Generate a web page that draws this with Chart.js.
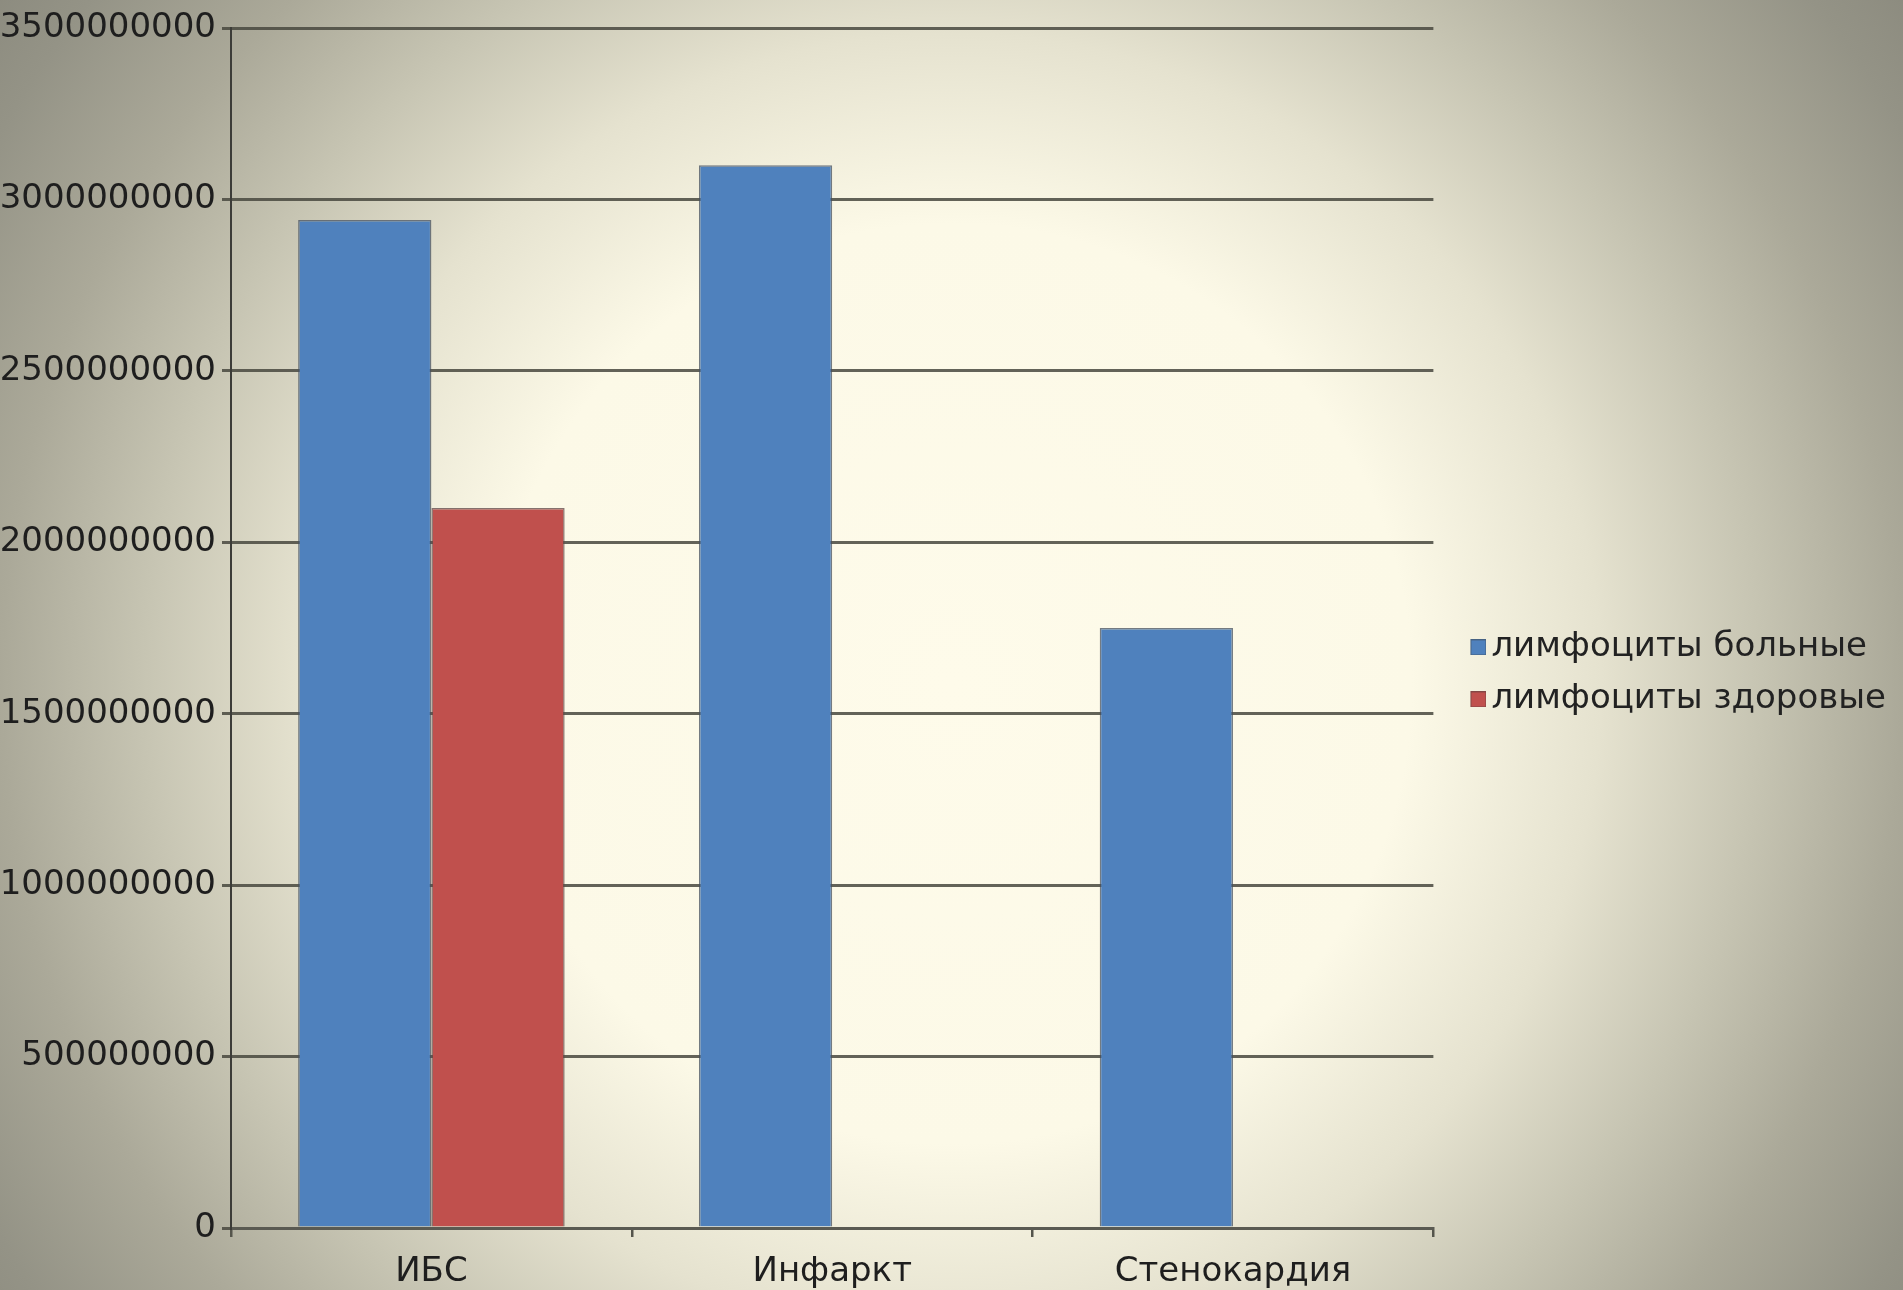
<!DOCTYPE html>
<html>
<head>
<meta charset="utf-8">
<script src="https://cdn.jsdelivr.net/npm/chart.js@4"></script>
<style>
  html, body { margin: 0; padding: 0; }
  body {
    width: 1903px; height: 1290px; overflow: hidden;
    background: radial-gradient(circle at 50% 53%, #fefbea 0px, #fcf9e7 460px, #e5e2cf 650px, #c6c4b2 810px, #aba999 950px, #949386 1100px, #807f74 1300px);
  }
  #wrap { position: absolute; left: 0; top: 0; width: 1903px; height: 1290px; }
</style>
</head>
<body>
<div id="wrap"><canvas id="barChart"></canvas></div>
<script>
var categories = ['ИБС', 'Инфаркт', 'Стенокардия'];
var sickValues = [2940000000, 3100000000, 1750000000];
var healthyValues = [2100000000, null, null];
var seriesNames = ['лимфоциты больные', 'лимфоциты здоровые'];
var seriesColors = ['#4f81bd', '#c0504d'];
var yTicks = [0, 500000000, 1000000000, 1500000000, 2000000000, 2500000000, 3000000000, 3500000000];

// legend marker: square sits at the right end of a wider transparent image,
// which leaves a gap to the plot and keeps the square close to its text
var markerSlot = 23;
function makeMarker(color) {
    var c = document.createElement('canvas');
    c.width = markerSlot + 24;
    c.height = 16;
    var g = c.getContext('2d');
    g.fillStyle = color;
    g.fillRect(c.width - 16, 0, 16, 16);
    g.strokeStyle = 'rgba(60,60,60,0.45)';
    g.lineWidth = 1;
    g.strokeRect(c.width - 15.5, 0.5, 15, 15);
    return c;
}
var markers = seriesColors.map(makeMarker);

var ctx = document.getElementById('barChart').getContext('2d');
Chart.defaults.font.family = '"DejaVu Sans", Verdana, sans-serif';
Chart.defaults.color = '#1e1e1e';

new Chart(ctx, {
    type: 'bar',
    data: {
        labels: categories,
        datasets: [
            {
                label: seriesNames[0],
                data: sickValues,
                backgroundColor: seriesColors[0],
                borderColor: 'rgba(70,80,95,0.75)',
                borderWidth: 1.5
            },
            {
                label: seriesNames[1],
                data: healthyValues,
                backgroundColor: seriesColors[1],
                borderColor: 'rgba(95,70,70,0.75)',
                borderWidth: 1.5
            }
        ]
    },
    options: {
        responsive: true,
        maintainAspectRatio: false,
        animation: false,
        layout: { padding: { top: 28, right: 7, left: 0, bottom: 0 } },
        datasets: {
            bar: { barPercentage: 1, categoryPercentage: 0.665 }
        },
        plugins: {
            tooltip: { enabled: false },
            legend: {
                position: 'right',
                align: 'center',
                title: { display: true, text: '', padding: { top: 12, bottom: 0 }, font: { size: 14 } },
                labels: {
                    usePointStyle: true,
                    pointStyleWidth: markerSlot,
                    boxHeight: 16,
                    padding: 18,
                    font: { size: 34 },
                    color: '#222',
                    generateLabels: function(chart) {
                        var items = Chart.defaults.plugins.legend.labels.generateLabels(chart);
                        items.forEach(function(item, i) { item.pointStyle = markers[i]; });
                        return items;
                    }
                }
            }
        },
        scales: {
            x: {
                afterFit: function(scale) { scale.height = 62; },
                grid: {
                    display: true,
                    drawOnChartArea: false,
                    drawTicks: true,
                    tickLength: 9,
                    color: '#55554c',
                    lineWidth: 2.5
                },
                border: { display: true, color: '#5a5a52', width: 3 },
                ticks: { font: { size: 34 }, padding: 15, color: '#1e1e1e' }
            },
            y: {
                min: 0,
                max: yTicks[yTicks.length - 1],
                afterFit: function(scale) { scale.width = 231; },
                afterBuildTicks: function(axis) {
                    axis.ticks = yTicks.map(function(v) { return { value: v }; });
                },
                grid: {
                    color: 'rgba(72,72,62,0.85)',
                    lineWidth: 3,
                    tickLength: 9,
                    drawTicks: true
                },
                border: { display: true, color: '#3c3c38', width: 2 },
                ticks: {
                    font: { size: 34 },
                    padding: 6,
                    color: '#1e1e1e',
                    callback: function(v) { return String(v); }
                }
            }
        }
    }
});
</script>
</body>
</html>
